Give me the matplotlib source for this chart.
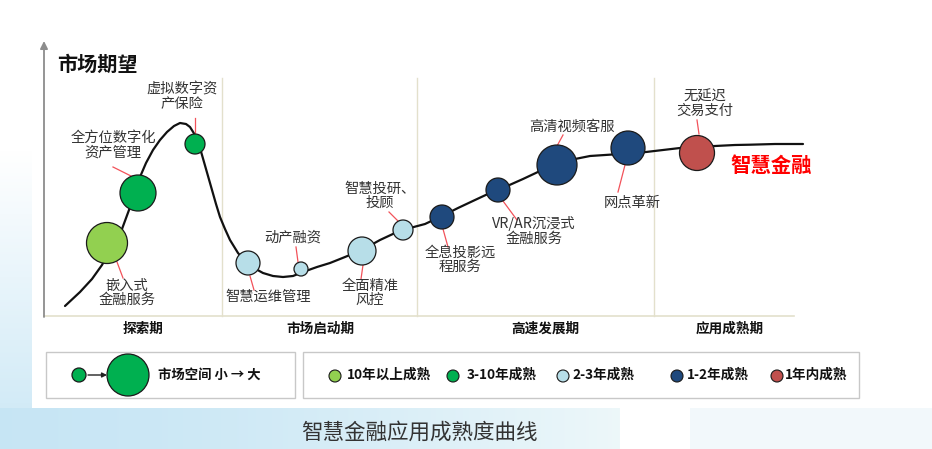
import numpy as np
import matplotlib.pyplot as plt
from matplotlib.patches import Circle, Rectangle

plt.rcParams['font.family'] = ['Noto Sans CJK SC', 'DejaVu Sans']

W, H = 932, 449  # canvas in pixels, axes use the same units

# hype curve (x right, y down)
curve_x = [65, 80, 92, 102, 112, 122, 129, 135, 140, 146, 153, 160, 167, 174, 180, 186,
           190, 195, 200, 204, 208, 212, 216, 220, 225, 230, 238, 246, 254, 263, 273, 283,
           293, 303, 317, 330, 345, 362, 380, 395, 410, 425, 442, 458, 475, 490, 505, 523,
           540, 557, 575, 590, 605, 620, 635, 646, 663, 680, 697, 715, 735, 750, 775, 803]
curve_y = [306, 292, 279, 265, 247, 229, 210, 193, 177, 163, 150, 140, 132, 126, 123, 124,
           127, 135, 148, 162, 176, 190, 204, 217, 229, 240, 253, 262, 268, 273, 276, 277,
           276, 272, 267, 263, 257, 250, 240, 233, 228, 224, 216, 208, 200, 193, 187, 179,
           171, 164, 159, 156, 155, 154, 153, 152, 150, 148, 147, 146, 145, 144.7, 144, 144]

# application bubbles
app_names = ['嵌入式\n金融服务', '全方位数字化\n资产管理', '虚拟数字资\n产保险', '智慧运维管理',
             '动产融资', '全面精准\n风控', '智慧投研、\n投顾', '全息投影远\n程服务',
             'VR/AR沉浸式\n金融服务', '高清视频客服', '网点革新', '无延迟\n交易支付']
bubble_x = [107, 138, 195, 248, 301, 362, 403, 442, 498, 557, 628, 697]
bubble_y = [243, 193, 144, 263, 269, 251, 230, 217, 190, 165, 148, 153]
bubble_r = [20.5, 18, 10, 12, 7, 14, 10, 12, 12, 20, 17, 17.5]
bubble_grp = [0, 1, 1, 2, 2, 2, 2, 3, 3, 3, 3, 4]

label_x = [127, 113, 182, 268, 293, 370, 380, 460, 534, 572, 632, 705]
label_y = [293, 145, 97, 297, 238, 293, 196, 260, 231, 127, 203, 104]

# leader lines from label to bubble
lead_x0 = [117, 113, 195, 250, 296, 363, 389, 443, 503, 563, 625, 697]
lead_y0 = [262, 167, 118, 276, 247, 265, 212, 229, 201, 135, 165, 120]
lead_x1 = [123, 135, 195, 254, 298, 361, 398, 448, 517, 557, 618, 699]
lead_y1 = [278, 178, 135, 290, 262, 279, 221, 247, 220, 146, 192, 134]

maturity_names = ['10年以上成熟', '3-10年成熟', '2-3年成熟', '1-2年成熟', '1年内成熟']
maturity_colors = ['#92d050', '#00b050', '#b7dee8', '#1f497d', '#c0504d']

phase_names = ['探索期', '市场启动期', '高速发展期', '应用成熟期']
phase_x = [143, 320, 545, 730]
divider_x = [222, 417, 654]

fig = plt.figure(figsize=(W / 100, H / 100), dpi=100)
ax = fig.add_axes([0, 0, 1, 1])
ax.set_xlim(0, W)
ax.set_ylim(H, 0)
ax.axis('off')

# background: white sheet with a pale blue wash at the bottom and left edge
bg = np.ones((H, W, 3))
xx, yy = np.meshgrid(np.arange(W), np.arange(H))
blue = np.array([0.78, 0.90, 0.96])
band = (yy >= 408) & (xx < 620)
t = (xx / 620.0)[band]
bg[band] = blue + (np.array([0.93, 0.97, 0.98]) - blue) * t[:, None] ** 1.5
left = (xx < 32) & (yy < 408)
s = np.clip((yy[left] - 150) / 258.0, 0, 1)
bg[left] = 1 - (1 - blue) * s[:, None] * 0.8
right = (yy >= 408) & (xx >= 690)
bg[right] = [0.95, 0.975, 0.985]
ax.imshow(bg, extent=(0, W, H, 0), zorder=0, aspect='auto')

# axes frame
ax.annotate('', xy=(44, 41), xytext=(44, 317),
            arrowprops=dict(arrowstyle='-|>', color='#8c8c8c', lw=1.3,
                            mutation_scale=11, shrinkA=0, shrinkB=0), zorder=2)
ax.plot([44, 794], [316, 316], color='#e3e0cc', lw=1.2, zorder=1)
for dx in divider_x:
    ax.plot([dx, dx], [78, 316], color='#e3e0cc', lw=1.0, zorder=1)
ax.text(57, 64, '市场期望', fontsize=14.5, fontweight='bold', color='#111111',
        ha='left', va='center')
for name, px in zip(phase_names, phase_x):
    ax.text(px, 329, name, fontsize=9.8, fontweight='bold', color='#111111',
            ha='center', va='center')

# curve, leaders, bubbles, labels
ax.plot(curve_x, curve_y, color='#111111', lw=1.6, zorder=3, solid_capstyle='round')
for i in range(len(app_names)):
    ax.plot([lead_x0[i], lead_x1[i]], [lead_y0[i], lead_y1[i]],
            color='#f2525a', lw=0.9, zorder=3)
    ax.add_patch(Circle((bubble_x[i], bubble_y[i]), bubble_r[i],
                        facecolor=maturity_colors[bubble_grp[i]],
                        edgecolor='#1a1a1a', lw=0.9, zorder=4))
    ax.text(label_x[i], label_y[i], app_names[i], fontsize=10.3, color='#333333',
            ha='center', va='center', linespacing=1.05, zorder=5)

ax.text(730, 165, '智慧金融', fontsize=14.7, fontweight='bold', color='#ff0000',
        ha='left', va='center')

# legend box 1: market size
ax.add_patch(Rectangle((46, 352), 249, 46, facecolor='white', edgecolor='#c8c8c8',
                       lw=1.0, zorder=2))
ax.add_patch(Circle((79, 375), 7, facecolor='#00b050', edgecolor='#1a1a1a', lw=0.9, zorder=3))
ax.annotate('', xy=(107, 375), xytext=(88, 375),
            arrowprops=dict(arrowstyle='-|>', color='#222222', lw=1.0,
                            mutation_scale=7, shrinkA=0, shrinkB=0), zorder=3)
ax.add_patch(Circle((128, 375), 21, facecolor='#00b050', edgecolor='#1a1a1a', lw=0.9, zorder=3))
ax.text(158, 375, '市场空间 小 → 大', fontsize=9.6, fontweight='bold', color='#111111',
        ha='left', va='center', zorder=3)

# legend box 2: maturity time
ax.add_patch(Rectangle((303, 352), 556, 46, facecolor='white', edgecolor='#c8c8c8',
                       lw=1.0, zorder=2))
leg_dot_x = [335, 453, 563, 677, 777]
leg_txt_x = [347, 467, 572, 687, 785]
for k in range(len(maturity_names)):
    ax.add_patch(Circle((leg_dot_x[k], 376), 6, facecolor=maturity_colors[k],
                        edgecolor='#1a1a1a', lw=0.8, zorder=3))
    ax.text(leg_txt_x[k], 375, maturity_names[k], fontsize=9.8, fontweight='bold',
            color='#111111', ha='left', va='center', zorder=3)

ax.text(419, 433, '智慧金融应用成熟度曲线', fontsize=15.5, color='#333333',
        ha='center', va='center')

plt.savefig('out.png', dpi=100)
